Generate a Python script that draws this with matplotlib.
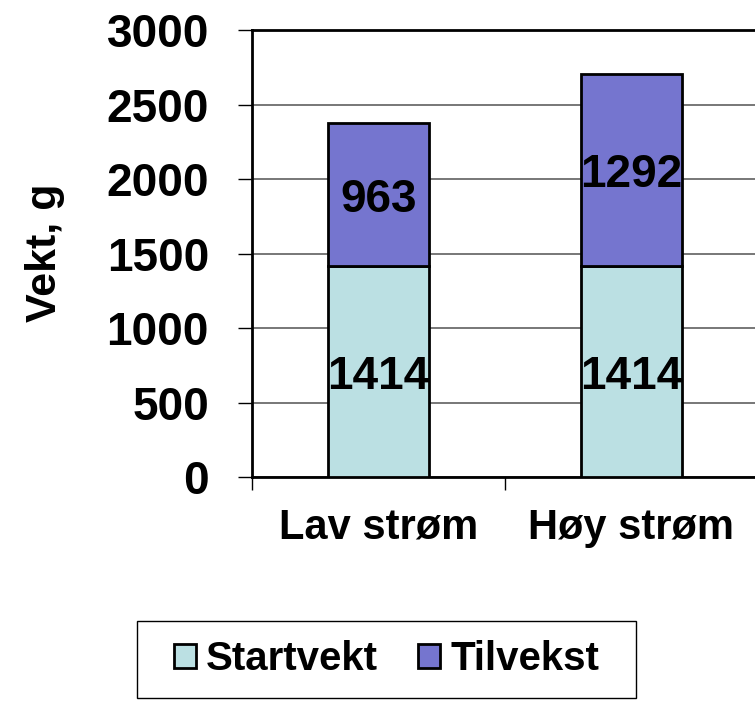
import matplotlib
matplotlib.use('Agg')
import matplotlib.pyplot as plt
from matplotlib.patches import Rectangle
import numpy as np

# Data
categories = ['Lav strøm', 'Høy strøm']
startvekt = [1414, 1414]
tilvekst = [963, 1292]
series_names = ['Startvekt', 'Tilvekst']
yticks = [0, 500, 1000, 1500, 2000, 2500, 3000]

plt.rcParams['font.family'] = ['Liberation Sans', 'DejaVu Sans']
plt.rcParams['font.weight'] = 'bold'

fig = plt.figure(figsize=(7.55, 7.04), dpi=100)
ax = fig.add_axes([252 / 755, 227 / 704, 506 / 755, 447 / 704])

x = np.arange(len(categories))
b1 = ax.bar(x, startvekt, width=0.4, color='#BBE0E3', edgecolor='black', linewidth=2,
            label=series_names[0], zorder=3)
b2 = ax.bar(x, tilvekst, width=0.4, bottom=startvekt, color='#7575CF', edgecolor='black',
            linewidth=2, label=series_names[1], zorder=3)

# values in the middle of each segment
for i in range(len(categories)):
    ax.text(x[i], startvekt[i] / 2, str(startvekt[i]), ha='center', va='center_baseline',
            fontsize=33, fontweight='bold', zorder=4)
    ax.text(x[i], startvekt[i] + tilvekst[i] / 2, str(tilvekst[i]), ha='center',
            va='center_baseline', fontsize=33, fontweight='bold', zorder=4)

ax.set_xlim(-0.5, 1.5)
ax.set_ylim(0, 3000)
ax.set_yticks(yticks)
ax.set_yticklabels([str(t) for t in yticks], fontsize=33, fontweight='bold')
ax.tick_params(axis='y', length=10, width=1, pad=21, direction='out')

ax.set_xticks(x)
ax.set_xticklabels(categories, fontsize=30, fontweight='bold')
ax.set_xticks([-0.5, 0.5, 1.5], minor=True)
ax.tick_params(axis='x', which='major', length=0, pad=22)
ax.tick_params(axis='x', which='minor', length=9, width=1, direction='out')

ax.yaxis.grid(True, color='#606060', linewidth=1.2, zorder=0)
ax.set_axisbelow(True)
for side in ['left', 'bottom', 'top']:
    ax.spines[side].set_linewidth(2)
    ax.spines[side].set_color('black')
ax.spines['right'].set_visible(False)

fig.text(45 / 755, 1 - 253 / 704, 'Vekt, g', rotation=90, ha='center', va='center',
         fontsize=31, fontweight='bold')

leg = fig.legend(handles=[b1, b2], labels=series_names, loc='center',
                 bbox_to_anchor=(0.512, 0.064), ncol=2, fontsize=29,
                 handlelength=0.55, handleheight=0.55, handletextpad=0.25,
                 columnspacing=1.0, borderpad=0.5, frameon=False)
for p in leg.get_patches():
    p.set_linewidth(2)

# legend border box
fig.add_artist(Rectangle((137 / 755, 1 - 698 / 704), 499 / 755, 77 / 704,
                         transform=fig.transFigure, fill=False, edgecolor='black',
                         linewidth=1))

fig.savefig('out.png', dpi=100)
